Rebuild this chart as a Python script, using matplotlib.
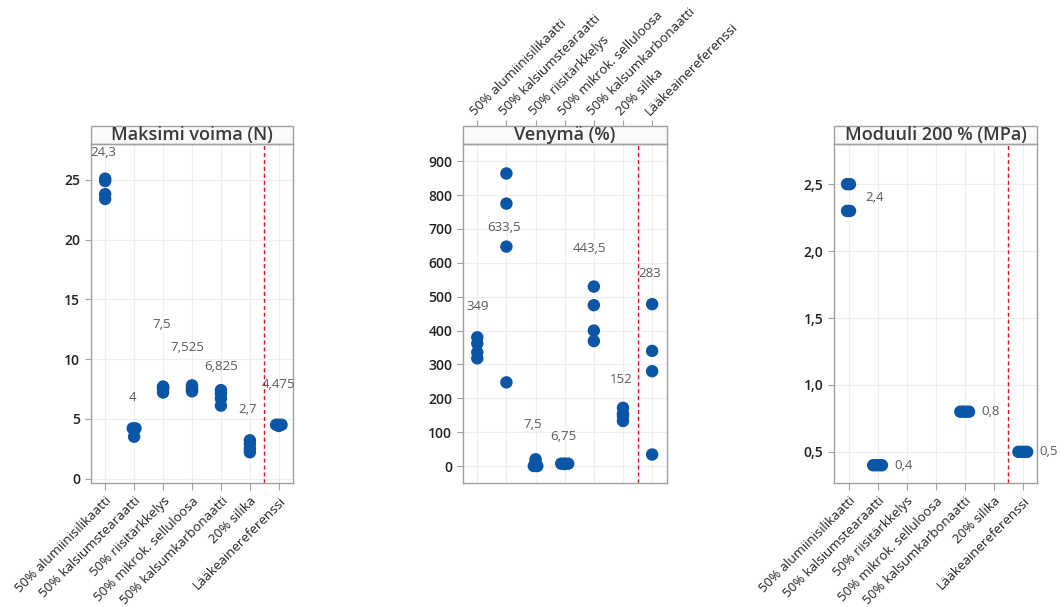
import matplotlib
matplotlib.use('Agg')
import matplotlib.pyplot as plt
import numpy as np
from matplotlib.patches import Rectangle

plt.rcParams['font.family'] = ['Open Sans', 'DejaVu Sans']

categories = ['50% alumiinisilikaatti', '50% kalsiumstearaatti', '50% riisitärkkelys',
              '50% mikrok. selluloosa', '50% kalsumkarbonaatti', '20% silika',
              'Lääkeainereferenssi']

# Maksimi voima (N)
voima = [
    [25.1, 24.9, 23.8, 23.4],
    [4.2, 4.2, 4.1, 3.5],
    [7.7, 7.6, 7.5, 7.2],
    [7.8, 7.6, 7.4, 7.3],
    [7.4, 7.1, 6.7, 6.1],
    [3.2, 2.9, 2.5, 2.2],
    [4.5, 4.5, 4.5, 4.4],
]
# Venymä (%)
venyma = [
    [380, 362, 336, 318],
    [864, 775, 648, 247],
    [20, 10, 0, 0],
    [7, 7, 7, 6],
    [530, 475, 400, 369],
    [172, 155, 148, 133],
    [478, 340, 280, 34],
]
# Moduuli 200 % (MPa)
moduuli = [
    [2.5, 2.5, 2.3, 2.3],
    [0.4, 0.4, 0.4, 0.4],
    [],
    [],
    [0.8, 0.8, 0.8, 0.8],
    [],
    [0.5, 0.5, 0.5, 0.5],
]

BLUE = '#0a55a5'
GRID = '#eeeeee'
SPINE = '#a0a0a0'

W, H = 1060, 607
fig = plt.figure(figsize=(W / 100, H / 100), dpi=100)

top_px, bot_px = 144, 483.3
strip_px = 18
ax_h = (bot_px - top_px) / H
ax_b = 1 - bot_px / H
strip_frac = strip_px / (bot_px - top_px)


def fmt_num(v):
    return f"{round(v, 3):g}".replace('.', ',')


def spread(vals, j):
    # identical values are placed side by side, wider for more copies
    offs = np.zeros(len(vals))
    for v in set(vals):
        idx = [k for k, x in enumerate(vals) if x == v]
        n = len(idx)
        if n > 1:
            w = j * (n - 1) / 3
            offs[idx] = np.linspace(-w, w, n)
    return offs


def make_panel(left_px, right_px, title, data, ylim, yticks, jitter,
               label_y=None, label_dx=None, side_labels=False, top_labels=False,
               comma=False):
    ax = fig.add_axes([left_px / W, ax_b, (right_px - left_px) / W, ax_h])
    ax.set_xlim(-0.5, 6.5)
    ax.set_ylim(*ylim)
    if comma:
        ylabels = [f"{v:.1f}".replace('.', ',') for v in yticks]
    else:
        ylabels = [f"{v:g}" for v in yticks]
    ax.set_yticks(yticks, labels=ylabels, fontweight='semibold', fontsize=10, color='#222222')
    ax.set_xticks(range(len(categories)))
    ax.grid(True, color=GRID, lw=0.8)
    ax.set_axisbelow(True)
    for s in ax.spines.values():
        s.set_color(SPINE)
        s.set_linewidth(1)
    ax.tick_params(axis='y', colors=SPINE, labelcolor='#222222', length=4)

    if top_labels:
        ax.tick_params(axis='x', bottom=False, labelbottom=False)
        sec = ax.secondary_xaxis(1 + strip_frac)
        sec.set_xticks(range(len(categories)))
        sec.set_xticklabels(categories, rotation=45, ha='left', rotation_mode='anchor',
                            fontsize=9.5, color='#222222')
        sec.tick_params(axis='x', colors=SPINE, labelcolor='#222222', length=4, pad=2)
        sec.spines['top'].set_color(SPINE)
    else:
        ax.set_xticklabels(categories, rotation=45, ha='right', rotation_mode='anchor',
                           fontsize=9.5, color='#222222')
        ax.tick_params(axis='x', colors=SPINE, labelcolor='#222222', length=5, pad=3)

    # title strip
    ax.add_patch(Rectangle((0, 1), 1, strip_frac, transform=ax.transAxes,
                           facecolor='#fafafa', edgecolor=SPINE, lw=1, clip_on=False))
    ax.text(0.5, 1 + strip_frac / 2, title, transform=ax.transAxes, ha='center',
            va='center', fontsize=13, fontweight='semibold', color='#3a3a3a')

    ax.axvline(5.5, color='#e8141b', ls=(0, (3, 2)), lw=1)

    for i, vals in enumerate(data):
        if not vals:
            continue
        xs = i + spread(vals, jitter)
        ax.scatter(xs, vals, s=80, color=BLUE, edgecolors='none', zorder=3, clip_on=False)
        m = np.mean(vals)
        if side_labels:
            ax.text(i + 0.57, m, fmt_num(m), ha='left', va='center', fontsize=9.5,
                    color='#595959', clip_on=False)
        else:
            ax.text(i + label_dx[i], label_y[i], fmt_num(m), ha='center', va='center',
                    fontsize=9.5, color='#595959')
    return ax


make_panel(90.7, 293.3, 'Maksimi voima (N)', voima, (-0.4, 28.0), [0, 5, 10, 15, 20, 25],
           0.14, label_y=[27.3, 6.8, 12.9, 10.95, 9.4, 5.77, 7.86],
           label_dx=[-0.08, -0.06, -0.04, -0.16, 0, -0.07, 0])
make_panel(462.7, 666.7, 'Venymä (%)', venyma, (-51, 951), list(range(0, 901, 100)),
           0.18, label_y=[470, 705, 123, 88, 643, 256, 569],
           label_dx=[0, -0.07, -0.09, -0.05, -0.14, -0.07, -0.08], top_labels=True)
make_panel(834, 1037.3, 'Moduuli 200 % (MPa)', moduuli, (0.265, 2.8),
           [0.5, 1.0, 1.5, 2.0, 2.5], 0.15, side_labels=True, comma=True)

fig.savefig('out.png', dpi=100)
